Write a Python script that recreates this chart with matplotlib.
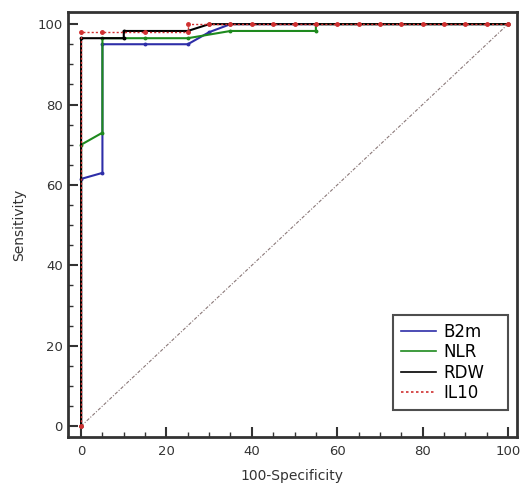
import matplotlib
matplotlib.use("Agg")
import matplotlib.pyplot as plt
from matplotlib.ticker import MultipleLocator

plt.rcParams['font.family'] = ['DejaVu Sans']

# Data (100-Specificity, Sensitivity)
b2m_x = [0, 0, 5, 5, 15, 25, 30, 35, 100]
b2m_y = [0, 61.5, 63, 95, 95, 95, 98, 100, 100]
nlr_x = [0, 0, 5, 5, 15, 25, 35, 55, 55, 100]
nlr_y = [0, 70, 73, 96.5, 96.5, 96.5, 98.3, 98.3, 100, 100]
rdw_x = [0, 0, 10, 10, 25, 30, 100]
rdw_y = [0, 96.5, 96.5, 98.3, 98.3, 100, 100]
il10_x = [0, 0, 5, 15, 25, 25, 30, 35, 40, 45, 50, 55, 60, 65, 70, 75, 80, 85, 90, 95, 100]
il10_y = [0, 98, 98, 98, 98, 100, 100, 100, 100, 100, 100, 100, 100, 100, 100, 100, 100, 100, 100, 100, 100]
ref_x = [0, 100]
ref_y = [0, 100]

fig = plt.figure(figsize=(5.2, 4.83), dpi=100)
ax = fig.add_axes([0.1313, 0.0952, 0.8620, 0.8798])

ax.plot(ref_x, ref_y, color='#8a7878', lw=0.8, ls=(0, (3, 1.5, 1, 1.5)), zorder=1)
ax.plot(b2m_x, b2m_y, color='#2e2ea8', lw=1.5, marker='o', ms=1.8, label='B2m', zorder=2)
ax.plot(nlr_x, nlr_y, color='#1e8a1e', lw=1.5, marker='o', ms=1.8, label='NLR', zorder=3)
ax.plot(rdw_x, rdw_y, color='black', lw=1.5, marker='o', ms=1.8, label='RDW', zorder=4)
ax.plot(il10_x, il10_y, color='#d03030', lw=1.0, ls=(0, (1.5, 1.5)), marker='o', ms=2.5,
        label='IL10', zorder=5)

ax.set_xlim(-3.0, 102.0)
ax.set_ylim(-2.7, 103)
ax.xaxis.set_major_locator(MultipleLocator(20))
ax.xaxis.set_minor_locator(MultipleLocator(5))
ax.yaxis.set_major_locator(MultipleLocator(20))
ax.yaxis.set_minor_locator(MultipleLocator(5))
ax.tick_params(which='major', direction='in', length=7, width=1.5, color='#333333',
               labelsize=9.5, labelcolor='#333333')
ax.tick_params(axis='x', which='major', pad=6)
ax.tick_params(axis='y', which='major', pad=4)
ax.tick_params(which='minor', direction='in', length=3.5, width=1.0, color='#333333')
for s in ax.spines.values():
    s.set_linewidth(2.0)
    s.set_color('#333333')

ax.set_xlabel('100-Specificity', fontsize=10, color='#333333', labelpad=8)
ax.set_ylabel('Sensitivity', fontsize=10, color='#333333', labelpad=8)

leg = ax.legend(loc='upper left', bbox_to_anchor=(0.7245, 0.075, 0.2565, 0.212),
                mode='expand', borderaxespad=0,
                fontsize=12, frameon=True, fancybox=False, handlelength=2.1,
                handletextpad=0.5, labelspacing=0.15, borderpad=0.45)
leg.get_frame().set_edgecolor('#222222')
leg.get_frame().set_linewidth(1.5)
for h in leg.get_lines():
    h.set_marker('')
    h.set_linewidth(1.2)

fig.savefig('out.png', dpi=100)
